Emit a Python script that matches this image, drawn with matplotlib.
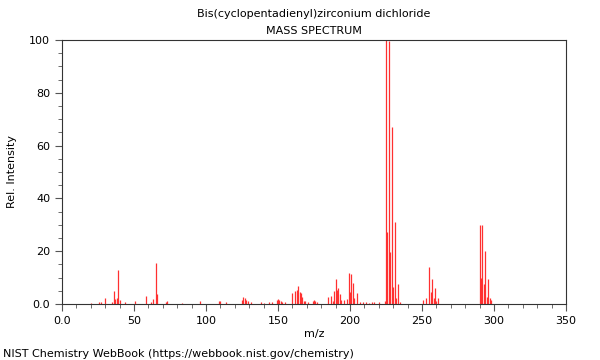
import matplotlib
matplotlib.use("Agg")
import matplotlib.pyplot as plt
from matplotlib.ticker import MultipleLocator

# m/z values and relative intensities
mz = [20, 26, 27, 30, 35, 36, 37, 38, 39, 40, 44, 51, 58, 62, 63, 65, 66, 72, 73,
      83, 96, 109, 110, 114, 125, 126, 127, 128, 129, 131, 138, 140, 144, 146,
      149, 150, 151, 152, 153, 155, 160, 162, 163, 164, 165, 166, 167, 168, 169,
      171, 174, 175, 176, 177, 185, 187, 188, 189, 190, 191, 192, 193, 194, 196,
      198, 199, 200, 201, 202, 203, 205, 207, 209, 211, 213, 215, 217, 220,
      224, 225, 226, 227, 228, 229, 230, 231, 232, 233, 235,
      251, 253, 255, 256, 257, 258, 259, 260, 261,
      290, 291, 292, 293, 294, 295, 296, 297, 298]
intensity = [0.4, 0.9, 0.6, 2.4, 0.8, 4.9, 1.9, 2.2, 12.9, 1.5, 0.7, 1.0, 3.2, 0.9, 1.8, 15.4, 3.7, 0.9, 1.0,
             0.3, 1.0, 1.2, 1.0, 0.7, 1.5, 2.8, 2.2, 1.5, 1.0, 0.8, 0.6, 0.5, 0.7, 0.6,
             1.6, 1.8, 1.5, 1.3, 0.8, 0.7, 4.0, 4.9, 5.2, 6.9, 4.4, 4.0, 2.8, 1.1, 1.0,
             0.8, 1.2, 1.5, 1.0, 0.8, 2.8, 3.2, 1.0, 4.9, 9.3, 5.3, 6.2, 3.7, 1.5, 1.5,
             2.0, 11.6, 4.7, 11.4, 7.8, 2.4, 4.0, 0.8, 0.6, 0.7, 0.5, 0.6, 0.7, 0.7,
             1.0, 100.0, 27.4, 99.5, 19.8, 67.0, 6.3, 31.0, 2.2, 7.4, 0.8,
             1.6, 2.4, 14.0, 4.7, 9.5, 2.2, 6.2, 1.0, 2.4,
             29.9, 10.0, 29.9, 7.5, 20.0, 2.8, 9.3, 2.1, 1.5]

title = "Bis(cyclopentadienyl)zirconium dichloride\nMASS SPECTRUM"
footer = "NIST Chemistry WebBook (https://webbook.nist.gov/chemistry)"

fig = plt.figure(figsize=(6, 3.6), dpi=100)
ax = fig.add_axes([0.1033, 0.1556, 0.84, 0.7333])

ax.vlines(mz, 0, intensity, colors="#ff3030", linewidth=0.9)

ax.set_xlim(0, 350)
ax.set_ylim(0, 100)
ax.xaxis.set_minor_locator(MultipleLocator(10))
ax.yaxis.set_minor_locator(MultipleLocator(5))
ax.set_xticks(range(0, 351, 50))
ax.set_xticklabels(["0.0"] + [str(v) for v in range(50, 351, 50)])
ax.set_yticks(range(0, 101, 20))
ax.set_yticklabels(["0.0"] + [str(v) for v in range(20, 101, 20)])
ax.tick_params(which="major", direction="out", length=5, width=0.8, labelsize=8, color="#555555")
ax.tick_params(which="minor", direction="out", length=3, width=0.6, color="#555555")
for s in ax.spines.values():
    s.set_color("#333333")
    s.set_linewidth(0.8)

ax.set_title(title, fontsize=8, linespacing=1.9, pad=4)
ax.set_xlabel("m/z", fontsize=8, labelpad=2)
ax.set_ylabel("Rel. Intensity", fontsize=8)
ax.yaxis.set_label_coords(-0.089, 0.5)
fig.text(0.005, 0.008, footer, fontsize=8)

fig.savefig("out.png", dpi=100)
